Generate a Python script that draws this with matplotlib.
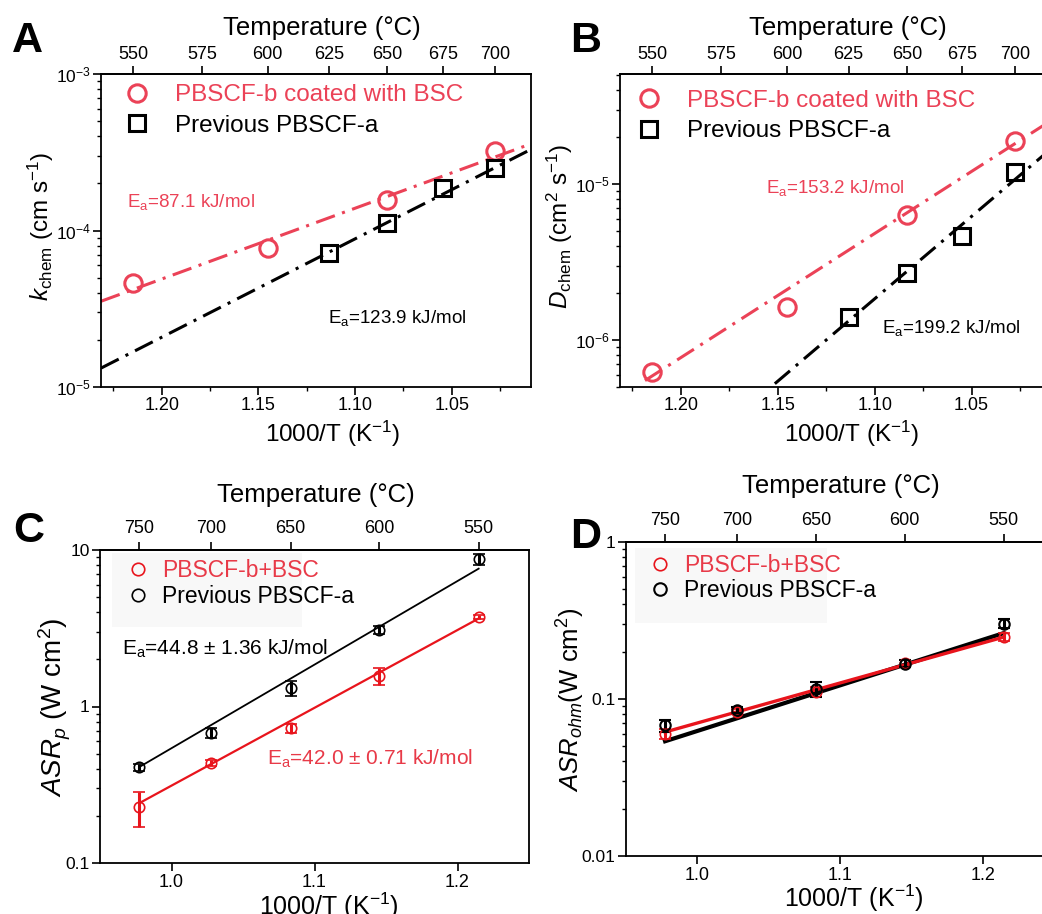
import numpy as np
import matplotlib
matplotlib.use("Agg")
import matplotlib.pyplot as plt
from matplotlib.ticker import (LogLocator, MultipleLocator, NullFormatter,
                               FuncFormatter, FormatStrFormatter)
from matplotlib.patches import Rectangle

plt.rcParams['font.family'] = ['Liberation Sans', 'DejaVu Sans']
plt.rcParams['mathtext.fontset'] = 'custom'
plt.rcParams['mathtext.rm'] = 'Liberation Sans'
plt.rcParams['mathtext.it'] = 'Liberation Sans:italic'
plt.rcParams['mathtext.bf'] = 'Liberation Sans:bold'
plt.rcParams['axes.linewidth'] = 1.3

# ---- data ----
# panel A: k_chem (cm s-1)
tA_red = [550, 600, 650, 700]
kA_red = [4.6e-5, 7.7e-5, 1.57e-4, 3.2e-4]
tA_blk = [625, 650, 675, 700]
kA_blk = [7.2e-5, 1.12e-4, 1.88e-4, 2.52e-4]
fitA_red_x, fitA_red_y = [1.2314, 1.009], [3.53e-5, 3.58e-4]
fitA_blk_x, fitA_blk_y = [1.2314, 1.009], [1.32e-5, 3.3e-4]

# panel B: D_chem (cm2 s-1)
tB_red = [550, 600, 650, 700]
dB_red = [6.2e-7, 1.63e-6, 6.3e-6, 1.89e-5]
tB_blk = [625, 650, 675, 700]
dB_blk = [1.4e-6, 2.69e-6, 4.64e-6, 1.19e-5]
fitB_red_x, fitB_red_y = [1.2185, 1.009], [5.5e-7, 2.55e-5]
fitB_blk_x, fitB_blk_y = [1.1515, 1.009], [5.25e-7, 1.68e-5]

# panel C: ASR_p
tC = [750, 700, 650, 600, 550]
asrp_blk = [0.408, 0.676, 1.316, 3.09, 8.72]
asrp_blk_err = [0.02, 0.05, 0.15, 0.2, 0.7]
asrp_red = [0.227, 0.435, 0.727, 1.57, 3.75]
asrp_red_err = [0.056, 0.02, 0.05, 0.2, 0.12]
fitC_x = [0.9774, 1.2148]
fitC_blk = [0.41, 7.6]
fitC_red = [0.241, 3.65]

# panel D: ASR_ohm
tD = [750, 700, 650, 600, 550]
asro_blk = [0.068, 0.0855, 0.116, 0.168, 0.302]
asro_blk_err = [0.006, 0.004, 0.013, 0.008, 0.02]
asro_red = [0.060, 0.083, 0.111, 0.170, 0.248]
asro_red_err = [0.004, 0.003, 0.008, 0.006, 0.015]
fitD_x = [0.9774, 1.2148]
fitD_blk = [0.0538, 0.263]
fitD_red = [0.0616, 0.248]

RED_AB = '#EB4257'
RED_CD = '#E8141C'
RED_TXT = '#E83A48'


def inv_T(t):
    return 1000.0 / (np.asarray(t, float) + 273.15)


def to_c(x):
    x = np.asarray(x, float)
    with np.errstate(divide='ignore'):
        return 1000.0 / x - 273.15


W, H = 1042, 914
fig = plt.figure(figsize=(W / 100, H / 100), dpi=100)


def add_ax(l, t, r, b):
    return fig.add_axes([l / W, 1 - b / H, (r - l) / W, (b - t) / H])


def ftext(x, y, s, **kw):
    fig.text(x / W, 1 - y / H, s, va='baseline', **kw)


axA = add_ax(101, 74, 531, 387)
axB = add_ax(620, 74, 1051, 387)
axC = add_ax(100, 550, 529, 863)
axD = add_ax(626, 542, 1054, 856)

dash = (6.5, 2.5, 1, 2.5)

# ---------- panel A ----------
axA.plot(fitA_red_x, fitA_red_y, color=RED_AB, lw=2.2, dashes=dash)
axA.plot(fitA_blk_x, fitA_blk_y, color='black', lw=2.2, dashes=dash)
axA.plot(inv_T(tA_red), kA_red, 'o', ms=12.5, mfc='none', mec=RED_AB, mew=2.2,
         label='PBSCF-b coated with BSC')
axA.plot(inv_T(tA_blk), kA_blk, 's', ms=11.5, mfc='none', mec='black', mew=2.2,
         label='Previous PBSCF-a')
axA.set_yscale('log')
axA.set_ylim(1e-5, 1e-3)
axA.set_xlim(1.2314, 1.009)
axA.set_ylabel(r'$k$$_{\mathrm{chem}}$ (cm s$^{\mathrm{-1}}$)', fontsize=17.5)
axA.set_xlabel(r'1000/T (K$^{\mathrm{-1}}$)', fontsize=17.5)
axA.legend(loc='upper left', bbox_to_anchor=(0.056, 0.968), frameon=False,
           fontsize=17.5, handlelength=1.0, handletextpad=1.05,
           labelspacing=0.36, borderpad=0, borderaxespad=0,
           labelcolor='markeredgecolor')
ftext(127, 207, r'E$_{\mathrm{a}}$=87.1 kJ/mol', color=RED_AB, fontsize=13.5)
ftext(328, 323, r'E$_{\mathrm{a}}$=123.9 kJ/mol', color='black', fontsize=13.5)

# ---------- panel B ----------
axB.plot(fitB_red_x, fitB_red_y, color=RED_AB, lw=2.2, dashes=dash)
axB.plot(fitB_blk_x, fitB_blk_y, color='black', lw=2.2, dashes=dash)
axB.plot(inv_T(tB_red), dB_red, 'o', ms=12.5, mfc='none', mec=RED_AB, mew=2.2,
         label='PBSCF-b coated with BSC')
axB.plot(inv_T(tB_blk), dB_blk, 's', ms=11.5, mfc='none', mec='black', mew=2.2,
         label='Previous PBSCF-a')
axB.set_yscale('log')
axB.set_ylim(5e-7, 5.07e-5)
axB.set_xlim(1.2314, 1.009)
axB.set_ylabel(r'$D$$_{\mathrm{chem}}$ (cm$^{\mathrm{2}}$ s$^{\mathrm{-1}}$)',
               fontsize=17.5)
axB.set_xlabel(r'1000/T (K$^{\mathrm{-1}}$)', fontsize=17.5)
axB.legend(loc='upper left', bbox_to_anchor=(0.04, 0.95), frameon=False,
           fontsize=17.5, handlelength=1.0, handletextpad=1.05,
           labelspacing=0.36, borderpad=0, borderaxespad=0,
           labelcolor='markeredgecolor')
ftext(766, 193, r'E$_{\mathrm{a}}$=153.2 kJ/mol', color=RED_AB, fontsize=13.5)
ftext(882, 333, r'E$_{\mathrm{a}}$=199.2 kJ/mol', color='black', fontsize=13.5)

for ax, lab_x in ((axA, 0.513), (axB, 0.529)):
    ax.xaxis.set_major_locator(MultipleLocator(0.05))
    ax.xaxis.set_minor_locator(MultipleLocator(0.025))
    ax.xaxis.set_major_formatter(FormatStrFormatter('%.2f'))
    ax.yaxis.set_minor_locator(LogLocator(base=10, subs=np.arange(2, 10)))
    ax.yaxis.set_minor_formatter(NullFormatter())
    ax.tick_params(which='major', direction='out', length=6, width=1.2,
                   labelsize=13, pad=1.5)
    ax.tick_params(axis='y', which='major', labelsize=12.5, pad=1.5)
    ax.tick_params(which='minor', direction='out', length=3, width=1.0)
    ax.yaxis.set_label_coords(-0.105, 0.512)
    ax.xaxis.set_label_coords(0.538, -0.1)
    sec = ax.secondary_xaxis('top', functions=(to_c, inv_T))
    sec.set_xticks([550, 575, 600, 625, 650, 675, 700])
    sec.tick_params(direction='out', length=6, width=1.2, labelsize=13, pad=2)
    sec.spines['top'].set_linewidth(1.3)
    ax.text(lab_x, 1.126, 'Temperature (°C)', transform=ax.transAxes,
            ha='center', va='baseline', fontsize=18.5)

# ---------- panel C ----------
xC = inv_T(tC)
axC.plot(fitC_x, fitC_blk, color='black', lw=1.3)
axC.plot(fitC_x, fitC_red, color=RED_CD, lw=1.6)
axC.errorbar(xC, asrp_blk, yerr=asrp_blk_err, fmt='o', ms=7.5, mfc='none',
             mec='black', mew=1.2, ecolor='black', elinewidth=2.2, capsize=4,
             capthick=2.2, label='Previous PBSCF-a')
axC.errorbar(xC, asrp_red, yerr=asrp_red_err, fmt='o', ms=7.5, mfc='none',
             mec=RED_CD, mew=1.2, ecolor=RED_CD, elinewidth=2.2, capsize=4,
             capthick=2.2, label='PBSCF-b+BSC')
axC.set_yscale('log')
axC.set_ylim(0.1, 10)
axC.set_xlim(0.95, 1.25)
axC.set_ylabel(r'$ASR_p$ (W cm$^{\mathrm{2}}$)', fontsize=20)
axC.yaxis.set_label_coords(-0.064, 0.498)
axC.set_xlabel(r'1000/T (K$^{\mathrm{-1}}$)', fontsize=18)
axC.xaxis.set_label_coords(0.534, -0.088)
ftext(122, 655, r'E$_{\mathrm{a}}$=44.8 ± 1.36 kJ/mol', color='black', fontsize=15)
ftext(267, 765, r'E$_{\mathrm{a}}$=42.0 ± 0.71 kJ/mol', color=RED_TXT, fontsize=15)

# ---------- panel D ----------
xD = inv_T(tD)
axD.plot(fitD_x, fitD_blk, color='black', lw=3.0)
axD.plot(fitD_x, fitD_red, color=RED_CD, lw=2.4)
axD.errorbar(xD, asro_red, yerr=asro_red_err, fmt='o', ms=7.5, mfc='none',
             mec=RED_CD, mew=1.2, ecolor=RED_CD, elinewidth=2.2, capsize=4,
             capthick=2.2, label='PBSCF-b+BSC')
axD.errorbar(xD, asro_blk, yerr=asro_blk_err, fmt='o', ms=7.5, mfc='none',
             mec='black', mew=1.5, ecolor='black', elinewidth=2.2, capsize=4,
             capthick=2.2, label='Previous PBSCF-a')
axD.set_yscale('log')
axD.set_ylim(0.01, 1)
axD.set_xlim(0.95, 1.25)
axD.set_ylabel(r'$ASR_{ohm}$(W cm$^{\mathrm{2}}$)', fontsize=18.5)
axD.yaxis.set_label_coords(-0.092, 0.497)
axD.set_xlabel(r'1000/T (K$^{\mathrm{-1}}$)', fontsize=18)
axD.xaxis.set_label_coords(0.533, -0.084)

axC.add_patch(Rectangle((12 / 429, 1 - 77 / 313), 190 / 429, 74 / 313,
                        transform=axC.transAxes, facecolor='#f8f8f8',
                        edgecolor='none', zorder=0))
axD.add_patch(Rectangle((9 / 427.5, 1 - 81 / 314), 192 / 427.5, 75 / 314,
                        transform=axD.transAxes, facecolor='#f8f8f8',
                        edgecolor='none', zorder=0))

for ax, anchor in ((axC, (0.062, 0.97)), (axD, (0.052, 0.962))):
    h, l = ax.get_legend_handles_labels()
    order = [l.index('PBSCF-b+BSC'), l.index('Previous PBSCF-a')]
    hh = [h[i][0] for i in order]
    leg = ax.legend(hh, [l[i] for i in order], loc='upper left',
                    bbox_to_anchor=anchor, frameon=False, fontsize=16.5,
                    handlelength=1.0, handletextpad=0.55, labelspacing=0.1,
                    borderpad=0, borderaxespad=0, markerscale=1.2)
    leg.get_texts()[0].set_color(RED_TXT)
    ax.xaxis.set_major_locator(MultipleLocator(0.1))
    ax.xaxis.set_major_formatter(FormatStrFormatter('%.1f'))
    ax.yaxis.set_major_formatter(FuncFormatter(lambda v, p: f'{v:g}'))
    ax.yaxis.set_minor_locator(LogLocator(base=10, subs=np.arange(2, 10)))
    ax.yaxis.set_minor_formatter(NullFormatter())
    ax.tick_params(which='major', direction='out', length=6, width=1.2,
                   labelsize=13, pad=2)
    ax.tick_params(axis='y', which='major', labelsize=12.5, pad=1.5)
    ax.tick_params(which='minor', direction='out', length=3, width=1.0)
    sec = ax.secondary_xaxis('top', functions=(to_c, inv_T))
    sec.set_xticks([750, 700, 650, 600, 550])
    sec.tick_params(direction='out', length=6, width=1.2, labelsize=13, pad=3)
    sec.spines['top'].set_linewidth(1.3)

axC.text((316 - 100) / 429, (863 - 502) / 313, 'Temperature (°C)',
         transform=axC.transAxes, ha='center', va='baseline', fontsize=18.5)
axD.text((841 - 626) / 427.5, (856 - 493) / 314, 'Temperature (°C)',
         transform=axD.transAxes, ha='center', va='baseline', fontsize=18.5)

# panel letters
ftext(12, 52, 'A', fontsize=31, fontweight='bold')
ftext(570, 52, 'B', fontsize=31, fontweight='bold')
ftext(13, 542, 'C', fontsize=31, fontweight='bold')
ftext(570, 548, 'D', fontsize=31, fontweight='bold')

fig.savefig('out.png', dpi=100)
